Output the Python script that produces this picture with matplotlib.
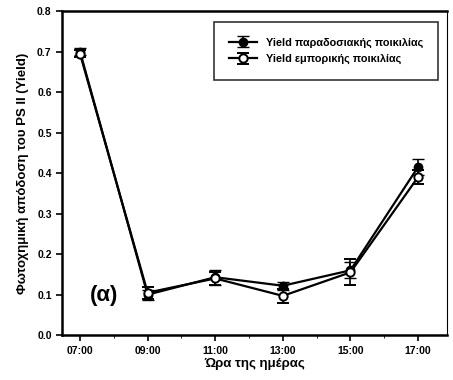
import numpy as np
import matplotlib.pyplot as plt

# hours of the day and yield values
hours = [7, 9, 11, 13, 15, 17]
hour_labels = ["07:00", "09:00", "11:00", "13:00", "15:00", "17:00"]
trad_yield = [0.70, 0.100, 0.143, 0.122, 0.160, 0.415]
trad_err = [0.008, 0.012, 0.018, 0.010, 0.020, 0.020]
comm_yield = [0.695, 0.105, 0.140, 0.097, 0.155, 0.390]
comm_err = [0.008, 0.015, 0.015, 0.018, 0.032, 0.018]

plt.rcParams['font.family'] = ['Liberation Sans', 'DejaVu Sans']

fig = plt.figure(figsize=(4.53, 3.80), dpi=100)
ax = fig.add_axes([0.137, 0.118, 0.850, 0.853])

ax.errorbar(hours, trad_yield, yerr=trad_err, color='black', marker='o',
            markersize=6, markerfacecolor='black', lw=1.6, capsize=4,
            elinewidth=1.2, label='Yield παραδοσιακής ποικιλίας')
ax.errorbar(hours, comm_yield, yerr=comm_err, color='black', marker='o',
            markersize=6, markerfacecolor='white', markeredgewidth=1.4,
            lw=1.6, capsize=4, elinewidth=1.2,
            label='Yield εμπορικής ποικιλίας')

ax.set_xlim(6.47, 17.86)
ax.set_ylim(0.0, 0.8)
ax.set_xticks(hours)
ax.set_xticklabels(hour_labels)
ax.set_xticks(np.arange(7, 18, 1), minor=True)
ax.set_yticks(np.arange(0, 0.81, 0.1))
ax.set_yticklabels([f"{v:.1f}" for v in np.arange(0, 0.81, 0.1)])
ax.tick_params(axis='both', labelsize=7.5, width=1.2, length=4)
ax.tick_params(axis='x', which='minor', length=2)
for lab in ax.get_xticklabels() + ax.get_yticklabels():
    lab.set_fontweight('bold')

for side in ['left', 'bottom', 'top']:
    ax.spines[side].set_linewidth(1.8)
ax.spines['right'].set_linewidth(0.8)

ax.set_xlabel('Ώρα της ημέρας', fontsize=9.5, fontweight='bold', labelpad=2)
ax.set_ylabel('Φωτοχημική απόδοση του PS II (Yield)', fontsize=9.5,
              fontweight='bold', labelpad=6)

ax.text(7.3, 0.085, '(α)', fontsize=16, fontweight='bold')

leg = ax.legend(loc='upper right', bbox_to_anchor=(0.985, 0.975), fontsize=7.8,
                frameon=True, fancybox=False, edgecolor='black',
                borderpad=1.4, handlelength=2.6, labelspacing=0.6,
                borderaxespad=0.3)
leg.get_frame().set_linewidth(1.2)
for t in leg.get_texts():
    t.set_fontweight('bold')

fig.savefig('out.png', dpi=100)
